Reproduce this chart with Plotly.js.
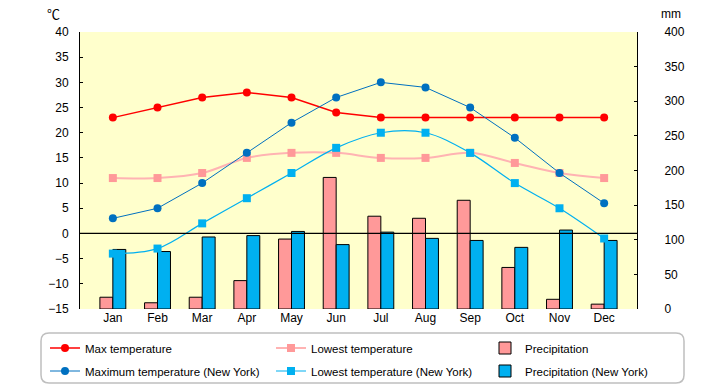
<!DOCTYPE html>
<html>
<head>
<meta charset="utf-8">
<script src="https://cdn.plot.ly/plotly-3.0.1.min.js"></script>
<style>html,body{margin:0;padding:0;background:#fff;}#chart{width:720px;height:385px;}</style>
</head>
<body>
<div id="chart"></div>
<script>
const months = ["Jan","Feb","Mar","Apr","May","Jun","Jul","Aug","Sep","Oct","Nov","Dec"];
const maxTemp = [23,25,27,28,27,24,23,23,23,23,23,23];
const lowTemp = [11,11,12,15,16,16,15,15,16,14,12,11];
const precip = [17,9,17,41,101,190,134,131,157,60,14,7];
const maxTempNY = [3,5,10,16,22,27,30,29,25,19,12,6];
const lowTempNY = [-4,-3,2,7,12,17,20,20,16,10,5,-1];
const precipNY = [86,83,104,106,112,93,111,102,99,89,114,99];

const tempTicks = [-15,-10,-5,0,5,10,15,20,25,30,35,40];
const mmTicks = [0,50,100,150,200,250,300,350,400];

// plot-area geometry (pixels) for layout placement
const PL = 80, PR = 637, PT = 32, PB = 309;
const PW = PR - PL, PH = PB - PT;
const px = x => (x - PL) / PW;
const py = y => (PB - y) / PH;

const FONT = "Liberation Sans, Arial, sans-serif";

const traces = [
  {type:"bar", name:"Precipitation", x:months, y:precip, yaxis:"y",
   marker:{color:"#FF9999", line:{color:"#000", width:1}}, legend:"legend3"},
  {type:"bar", name:"Precipitation (New York)", x:months, y:precipNY, yaxis:"y",
   marker:{color:"#00B0F0", line:{color:"#000", width:1}}, legend:"legend6"},
  {type:"scatter", mode:"lines+markers", name:"Max temperature", x:months, y:maxTemp, yaxis:"y2",
   line:{color:"#FF0000", width:1.5}, marker:{color:"#FF0000", size:8, symbol:"circle"}, legend:"legend"},
  {type:"scatter", mode:"lines+markers", name:"Lowest temperature", x:months, y:lowTemp, yaxis:"y2",
   line:{color:"#FFB3B3", width:2, shape:"spline"}, marker:{color:"#FF9999", size:8, symbol:"square"}, legend:"legend2"},
  {type:"scatter", mode:"lines+markers", name:"Maximum temperature (New York)", x:months, y:maxTempNY, yaxis:"y2",
   line:{color:"#0070C0", width:1}, marker:{color:"#0070C0", size:8, symbol:"circle"}, legend:"legend4"},
  {type:"scatter", mode:"lines+markers", name:"Lowest temperature (New York)", x:months, y:lowTempNY, yaxis:"y2",
   line:{color:"#00B0F0", width:1.2, shape:"spline"}, marker:{color:"#00B0F0", size:8, symbol:"square"}, legend:"legend5"}
];

function leg(xPix, yPix) {
  return {orientation:"h", x:px(xPix), xanchor:"left", y:py(yPix), yanchor:"middle",
          bgcolor:"rgba(0,0,0,0)", borderwidth:0, itemwidth:30,
          font:{family:FONT, size:11.5, color:"#000"}};
}

// rounded legend frame
const bx0 = 41, bx1 = 684, by0 = 333, by1 = 383, r = 8;
const P = (x,y) => px(x) + "," + py(y);
const framePath = "M" + P(bx0+r,by0) + " L" + P(bx1-r,by0) + " Q" + P(bx1,by0) + " " + P(bx1,by0+r) +
  " L" + P(bx1,by1-r) + " Q" + P(bx1,by1) + " " + P(bx1-r,by1) +
  " L" + P(bx0+r,by1) + " Q" + P(bx0,by1) + " " + P(bx0,by1-r) +
  " L" + P(bx0,by0+r) + " Q" + P(bx0,by0) + " " + P(bx0+r,by0) + " Z";

const layout = {
  width:720, height:385,
  margin:{l:PL, r:720-PR, t:PT, b:385-PB, pad:0, autoexpand:false},
  paper_bgcolor:"#FFFFFF", plot_bgcolor:"#FFFFCC",
  font:{family:FONT, size:12, color:"#000"},
  barmode:"group", bargap:0.42, bargroupgap:0,
  showlegend:true,
  xaxis:{type:"category", showgrid:false, zeroline:false, showline:false, ticks:"",
         tickfont:{family:FONT, size:12}, fixedrange:true},
  yaxis:{side:"right", range:[0,400], tickvals:mmTicks, showgrid:false, zeroline:false,
         showline:true, linecolor:"#000", linewidth:1, ticks:"inside", ticklen:3, tickcolor:"#000",
         ticklabelstandoff:24, tickfont:{family:FONT, size:12}, fixedrange:true},
  yaxis2:{side:"left", overlaying:"y", range:[-15,40], tickvals:tempTicks, showgrid:false, zeroline:false,
          showline:true, linecolor:"#000", linewidth:1, ticks:"inside", ticklen:3, tickcolor:"#000",
          ticklabelstandoff:8, tickfont:{family:FONT, size:12}, fixedrange:true},
  legend: leg(45, 348),
  legend2: leg(271, 348),
  legend3: leg(485, 348),
  legend4: leg(45, 371),
  legend5: leg(271, 371),
  legend6: leg(485, 371),
  shapes:[
    {type:"line", xref:"paper", x0:0, x1:1, yref:"y2", y0:0, y1:0, line:{color:"#000", width:1.2}, layer:"above"},
    {type:"path", xref:"paper", yref:"paper", path:framePath, line:{color:"#BFBFBF", width:1.5}, fillcolor:"rgba(0,0,0,0)", layer:"below"}
  ],
  annotations:[
    {text:"℃", xref:"paper", yref:"paper", x:px(53), y:py(14), xanchor:"center", yanchor:"middle", showarrow:false, font:{family:"Noto Sans CJK JP, sans-serif", size:13}},
    {text:"mm", xref:"paper", yref:"paper", x:px(671), y:py(14), xanchor:"center", yanchor:"middle", showarrow:false, font:{family:FONT, size:12}}
  ]
};

Plotly.newPlot("chart", traces, layout, {staticPlot:true, displayModeBar:false});
</script>
</body>
</html>
